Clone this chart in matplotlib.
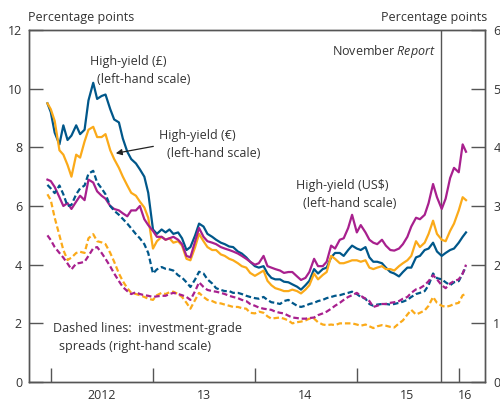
import numpy as np
import pandas as pd
import matplotlib
matplotlib.use('Agg')
import matplotlib.pyplot as plt

plt.rcParams['font.family'] = ['Open Sans', 'DejaVu Sans']
plt.rcParams['mathtext.fontset'] = 'custom'
plt.rcParams['mathtext.rm'] = 'Open Sans'
plt.rcParams['mathtext.it'] = 'Open Sans:italic'

# === DATA (semi-monthly readings) ===
dates = pd.to_datetime(['2011-12-20']
                       + [d.strftime('%Y-%m-%d') for d in pd.date_range('2012-01-01', '2016-01-15', freq='SMS')]
                       + ['2016-01-27'])

# high-yield spreads, left-hand scale
hy_gbp = [9.5, 9.2, 8.5, 8.1, 8.75, 8.25, 8.4, 8.75, 8.45, 8.6,
          9.6, 10.2, 9.65, 9.75, 9.8, 9.3, 8.95, 8.85, 8.3, 7.85,
          7.6, 7.45, 7.25, 7.0, 6.45, 5.2, 5.05, 5.2, 5.1, 5.2,
          5.05, 5.1, 4.9, 4.5, 4.6, 5.0, 5.4, 5.3, 5.05, 4.95,
          4.85, 4.75, 4.7, 4.62, 4.6, 4.45, 4.38, 4.25, 4.1, 3.95,
          3.9, 3.95, 3.7, 3.55, 3.5, 3.5, 3.42, 3.4, 3.33, 3.25,
          3.15, 3.3, 3.45, 3.85, 3.7, 3.85, 3.9, 4.25, 4.4, 4.4,
          4.3, 4.5, 4.65, 4.55, 4.5, 4.6, 4.25, 4.1, 4.1, 4.05,
          3.9, 3.75, 3.7, 3.6, 3.75, 3.9, 3.9, 4.25, 4.3, 4.5,
          4.55, 4.75, 4.45, 4.3, 4.4, 4.5, 4.55, 4.75, 4.95, 5.1]
hy_eur = [9.5, 9.3, 8.9, 7.9, 7.75, 7.4, 7.0, 7.75, 7.65, 8.2,
          8.6, 8.7, 8.35, 8.35, 8.45, 7.9, 7.6, 7.3, 7.0, 6.7,
          6.45, 6.35, 6.15, 5.95, 5.6, 4.55, 4.8, 4.95, 4.85, 4.9,
          4.75, 4.8, 4.65, 4.2, 4.15, 4.6, 5.05, 4.8, 4.6, 4.5,
          4.5, 4.35, 4.3, 4.2, 4.15, 4.05, 3.95, 3.9, 3.72, 3.62,
          3.7, 3.8, 3.45, 3.3, 3.2, 3.15, 3.1, 3.1, 3.15, 3.1,
          3.02, 3.15, 3.3, 3.7, 3.5, 3.65, 3.75, 4.3, 4.2, 4.05,
          4.05, 4.1, 4.15, 4.15, 4.1, 4.15, 3.9, 3.85, 3.9, 3.95,
          3.85, 3.85, 3.8, 3.95, 4.05, 4.15, 4.3, 4.8, 4.6, 4.75,
          5.05, 5.5, 5.05, 4.85, 4.8, 5.15, 5.4, 5.85, 6.3, 6.2]
hy_usd = [6.9, 6.85, 6.65, 6.3, 6.0, 6.1, 5.9, 6.15, 6.35, 6.2,
          6.9, 6.8, 6.5, 6.35, 6.25, 6.0, 5.9, 5.85, 5.75, 5.65,
          5.85, 5.85, 6.0, 5.55, 5.35, 5.15, 4.95, 4.95, 4.85, 4.9,
          4.95, 4.85, 4.7, 4.3, 4.25, 4.8, 5.25, 4.95, 4.8, 4.75,
          4.7, 4.6, 4.55, 4.5, 4.45, 4.38, 4.3, 4.2, 4.1, 4.0,
          4.05, 4.3, 3.95, 3.9, 3.85, 3.8, 3.72, 3.75, 3.75, 3.6,
          3.48, 3.55, 3.75, 4.2, 3.95, 3.95, 4.1, 4.65, 4.55, 4.85,
          4.9, 5.25, 5.7, 5.1, 5.35, 5.1, 4.85, 4.75, 4.7, 4.85,
          4.65, 4.5, 4.48, 4.55, 4.7, 4.95, 5.3, 5.6, 5.55, 5.7,
          6.1, 6.75, 6.3, 5.9, 6.25, 6.95, 7.3, 7.15, 8.1, 7.85]

# investment-grade spreads, right-hand scale
ig_gbp = [3.36, 3.3, 3.22, 3.35, 3.2, 3.0, 3.02, 3.2, 3.3, 3.35,
          3.55, 3.6, 3.4, 3.3, 3.2, 3.0, 2.92, 2.85, 2.78, 2.7,
          2.62, 2.52, 2.45, 2.35, 2.2, 1.85, 1.92, 1.96, 1.93, 1.92,
          1.9, 1.82, 1.78, 1.7, 1.62, 1.75, 1.88, 1.85, 1.75, 1.68,
          1.6, 1.57, 1.55, 1.55, 1.52, 1.52, 1.5, 1.47, 1.45, 1.43,
          1.42, 1.45, 1.4, 1.36, 1.35, 1.33, 1.38, 1.4, 1.35, 1.3,
          1.28, 1.3, 1.33, 1.35, 1.38, 1.4, 1.43, 1.45, 1.47, 1.48,
          1.5, 1.52, 1.54, 1.5, 1.45, 1.42, 1.33, 1.3, 1.32, 1.33,
          1.33, 1.32, 1.33, 1.35, 1.37, 1.4, 1.45, 1.5, 1.52, 1.55,
          1.65, 1.85, 1.77, 1.75, 1.7, 1.65, 1.7, 1.72, 1.85, 1.97]
ig_eur = [3.2, 3.1, 2.8, 2.5, 2.25, 2.08, 2.12, 2.2, 2.22, 2.2,
          2.45, 2.52, 2.4, 2.38, 2.35, 2.2, 2.05, 1.85, 1.72, 1.6,
          1.52, 1.5, 1.48, 1.45, 1.42, 1.4, 1.48, 1.52, 1.5, 1.53,
          1.54, 1.5, 1.45, 1.35, 1.25, 1.4, 1.52, 1.45, 1.4, 1.38,
          1.35, 1.34, 1.32, 1.3, 1.28, 1.28, 1.26, 1.25, 1.18, 1.17,
          1.2, 1.18, 1.12, 1.08, 1.09, 1.1, 1.08, 1.05, 1.0, 1.02,
          1.03, 1.05, 1.08, 1.08, 1.02, 0.98, 0.97, 0.98, 0.97, 1.0,
          1.0, 1.0, 1.0, 0.98, 0.96, 0.98, 0.95, 0.92, 0.95, 0.97,
          0.96, 0.94, 0.93, 1.0, 1.05, 1.15, 1.23, 1.15, 1.18, 1.22,
          1.3, 1.45, 1.35, 1.3, 1.28, 1.3, 1.33, 1.35, 1.48, 1.5]
ig_usd = [2.5, 2.42, 2.3, 2.2, 2.12, 2.02, 1.92, 2.02, 2.03, 2.05,
          2.15, 2.28, 2.3, 2.2, 2.1, 1.97, 1.85, 1.72, 1.62, 1.55,
          1.5, 1.53, 1.5, 1.48, 1.47, 1.45, 1.46, 1.47, 1.47, 1.5,
          1.52, 1.5, 1.48, 1.45, 1.4, 1.55, 1.7, 1.62, 1.57, 1.55,
          1.54, 1.52, 1.5, 1.47, 1.45, 1.43, 1.4, 1.38, 1.33, 1.3,
          1.27, 1.25, 1.24, 1.23, 1.2, 1.18, 1.17, 1.13, 1.1, 1.09,
          1.08, 1.08, 1.09, 1.1, 1.14, 1.17, 1.2, 1.25, 1.3, 1.35,
          1.4, 1.45, 1.48, 1.52, 1.47, 1.42, 1.38, 1.28, 1.3, 1.33,
          1.33, 1.35, 1.36, 1.38, 1.42, 1.45, 1.52, 1.58, 1.6, 1.65,
          1.72, 1.82, 1.75, 1.65, 1.6, 1.68, 1.72, 1.75, 1.85, 2.0]

year_ticks = pd.to_datetime(['2012-01-01', '2013-01-01', '2014-01-01', '2015-01-01', '2016-01-01'])
label_pos = pd.to_datetime(['2012-07-01', '2013-07-01', '2014-07-01', '2015-07-01', '2016-01-22'])
year_labels = ['2012', '13', '14', '15', '16']
report_date = pd.Timestamp('2015-10-30')

BLUE = '#00578a'
ORANGE = '#fbaa19'
MAGENTA = '#a8208e'
TXT = '#333333'
AX = '#555555'

fig, ax = plt.subplots(figsize=(5.0, 4.03), dpi=100)
fig.subplots_adjust(left=0.058, right=0.97, bottom=0.052, top=0.9256)
ax2 = ax.twinx()

lw = 1.6
ax.plot(dates, hy_gbp, color=BLUE, lw=lw, zorder=3)
ax.plot(dates, hy_eur, color=ORANGE, lw=lw, zorder=3)
ax.plot(dates, hy_usd, color=MAGENTA, lw=lw, zorder=3)
ax2.plot(dates, ig_gbp, color=BLUE, lw=lw, dashes=(2.5, 1.3))
ax2.plot(dates, ig_eur, color=ORANGE, lw=lw, dashes=(2.5, 1.3))
ax2.plot(dates, ig_usd, color=MAGENTA, lw=lw, dashes=(2.5, 1.3))

ax.axvline(report_date, color=AX, lw=1)

ax.set_xlim(pd.Timestamp('2011-10-15'), pd.Timestamp('2016-04-04'))
ax.set_ylim(0, 12)
ax2.set_ylim(0, 6)
ax.set_yticks(range(0, 13, 2))
ax2.set_yticks(range(0, 7))

ax.set_xticks(year_ticks)
ax.set_xticklabels([])
ax.set_xticks(label_pos, minor=True)
ax.set_xticklabels(year_labels, minor=True)

ax.tick_params(axis='x', which='major', direction='in', length=10, width=1, color=AX)
ax.tick_params(axis='x', which='minor', length=0, pad=5, labelsize=9, labelcolor=TXT)
ax.tick_params(axis='y', direction='in', length=10, width=1, color=AX, pad=5, labelsize=9, labelcolor=TXT)
ax2.tick_params(axis='y', direction='in', length=10, width=1, color=AX, pad=6, labelsize=9, labelcolor=TXT)

for a in (ax, ax2):
    for s in a.spines.values():
        s.set_color(AX)
        s.set_linewidth(1)

# annotations
kw = dict(fontsize=9, color=TXT, va='center', ha='left')
ax.text(pd.Timestamp('2012-05-22'), 10.92, 'High-yield (£)', **kw)
ax.text(pd.Timestamp('2012-06-16'), 10.3, '(left-hand scale)', **kw)
ax.text(pd.Timestamp('2013-01-24'), 8.4, 'High-yield (€)', **kw)
ax.text(pd.Timestamp('2013-02-21'), 7.8, '(left-hand scale)', **kw)
ax.annotate('', xy=(pd.Timestamp('2012-08-11'), 7.78), xytext=(pd.Timestamp('2013-01-12'), 8.05),
            arrowprops=dict(arrowstyle='-|>', color='#222222', lw=0.9, mutation_scale=9))
ax.text(pd.Timestamp('2014-05-28'), 6.69, r'High-yield (US\$)', **kw)
ax.text(pd.Timestamp('2014-06-22'), 6.07, '(left-hand scale)', **kw)
ax.text(pd.Timestamp('2012-01-08'), 1.83, 'Dashed lines:  investment-grade', **kw)
ax.text(pd.Timestamp('2012-02-01'), 1.2, 'spreads (right-hand scale)', **kw)
ax.text(pd.Timestamp('2015-10-12'), 11.27, r'November $\it{Report}$', fontsize=9, color=TXT,
        va='center', ha='right')

fig.text(28 / 500, 1 - 18 / 403, 'Percentage points', fontsize=9, color=TXT, ha='left', va='center')
fig.text(487 / 500, 1 - 18 / 403, 'Percentage points', fontsize=9, color=TXT, ha='right', va='center')

fig.savefig('out.png', dpi=100)
